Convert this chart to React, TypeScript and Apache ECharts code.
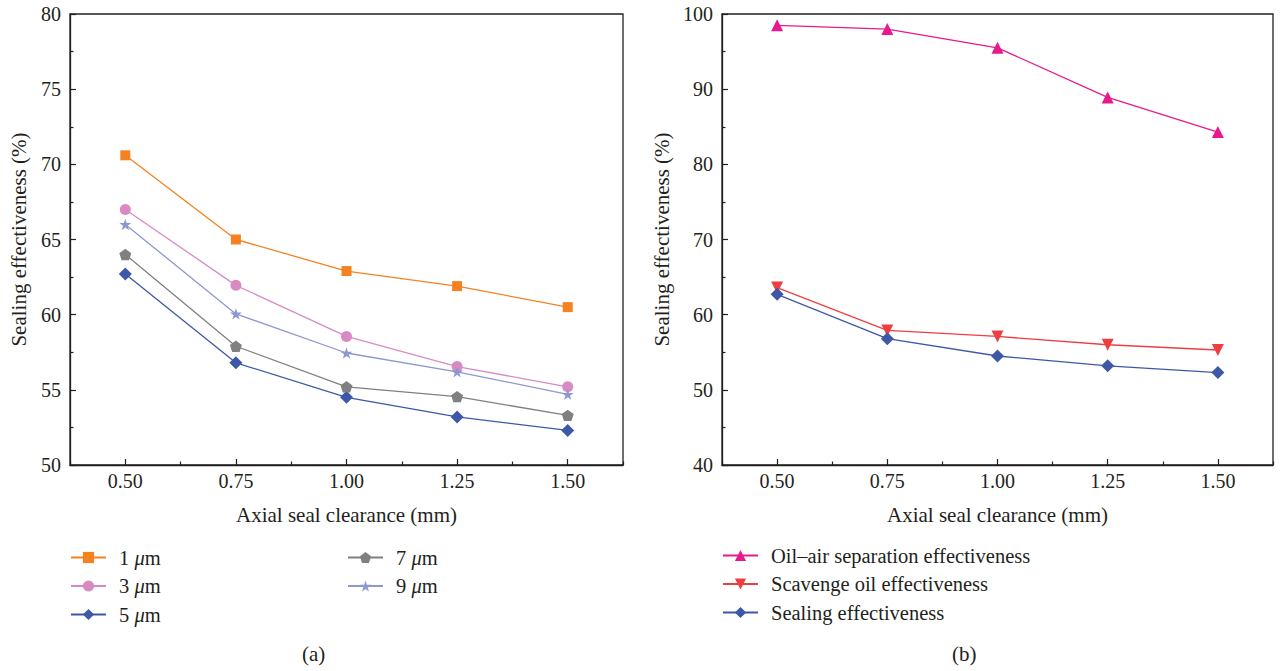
import React, { useEffect, useRef } from "react";
import * as echarts from "echarts";

const clearanceLabels = ["0.50", "0.75", "1.00", "1.25", "1.50"];

const grainNames = ["1 μm", "3 μm", "5 μm", "7 μm", "9 μm"];
const grain1 = [70.6, 65.0, 62.9, 61.9, 60.5];
const grain3 = [67.0, 61.95, 58.55, 56.55, 55.2];
const grain5 = [62.7, 56.8, 54.5, 53.2, 52.3];
const grain7 = [64.0, 57.9, 55.2, 54.55, 53.3];
const grain9 = [66.0, 60.05, 57.45, 56.2, 54.7];

const effNames = ["Oil–air separation effectiveness", "Scavenge oil effectiveness", "Sealing effectiveness"];
const oilAir = [98.5, 98.0, 95.5, 88.9, 84.3];
const scavenge = [63.6, 57.9, 57.1, 56.0, 55.3];
const sealing = [62.7, 56.8, 54.5, 53.2, 52.3];

const FONT = "Liberation Serif";
const INK = "#231f20";
const TICK_FS = 20;
const NAME_FS = 21;
const LEG_FS = 20.5;
const PENTAGON = "path://M50,0 L97.6,34.5 L79.4,90.5 L20.6,90.5 L2.4,34.5 Z";
const STAR = "path://M50,0 L61.2,34.5 L97.6,34.5 L68.2,55.9 L79.4,90.5 L50,69.1 L20.6,90.5 L31.8,55.9 L2.4,34.5 L38.8,34.5 Z";

function catAxes(gridIndex: number) {
  return [
    {
      type: "category",
      gridIndex,
      position: "bottom",
      data: clearanceLabels,
      boundaryGap: true,
      axisLine: { show: true, lineStyle: { color: INK, width: 1.3 } },
      axisTick: { show: true, inside: true, length: 6, alignWithLabel: true, interval: 0, lineStyle: { color: INK, width: 1.2 } },
      axisLabel: { show: true, interval: 0, margin: 6, color: INK, fontFamily: FONT, fontSize: TICK_FS },
      splitLine: { show: false },
      name: "Axial seal clearance (mm)",
      nameLocation: "middle",
      nameGap: 39,
      nameTextStyle: { color: INK, fontFamily: FONT, fontSize: NAME_FS },
    },
    {
      type: "category",
      gridIndex,
      position: "bottom",
      data: clearanceLabels,
      boundaryGap: true,
      axisLine: { show: false },
      axisTick: { show: true, inside: true, length: 3.5, alignWithLabel: false, interval: 0, lineStyle: { color: INK, width: 1.2 } },
      axisLabel: { show: false },
      splitLine: { show: false },
    },
  ];
}

function valAxis(gridIndex: number, min: number, max: number, interval: number, nameGap: number) {
  return {
    type: "value",
    gridIndex,
    min,
    max,
    interval,
    axisLine: { show: true, lineStyle: { color: INK, width: 1.3 } },
    axisTick: { show: true, inside: true, length: 6, lineStyle: { color: INK, width: 1.2 } },
    minorTick: { show: true, splitNumber: 2, length: 3.5, lineStyle: { color: INK, width: 1.2 } },
    axisLabel: { margin: 9, color: INK, fontFamily: FONT, fontSize: TICK_FS },
    splitLine: { show: false },
    minorSplitLine: { show: false },
    name: "Sealing effectiveness (%)",
    nameLocation: "middle",
    nameGap,
    nameTextStyle: { color: INK, fontFamily: FONT, fontSize: NAME_FS },
  };
}

function lineSeries(name: string, data: number[], color: string, symbol: string, symbolSize: number, xi: number, yi: number, extra: any = {}) {
  return {
    type: "line",
    name,
    data,
    xAxisIndex: xi,
    yAxisIndex: yi,
    symbol,
    symbolSize,
    symbolKeepAspect: true,
    lineStyle: { color, width: 1.3 },
    itemStyle: { color },
    ...extra,
  };
}

const legendText = {
  color: INK,
  fontFamily: FONT,
  fontSize: LEG_FS,
  lineHeight: 20,
  padding: [0, 0, 0, 8],
  rich: {
    n: { fontFamily: FONT, fontSize: LEG_FS, color: INK, lineHeight: 20 },
    i: { fontFamily: FONT, fontSize: LEG_FS, color: INK, fontStyle: "italic", lineHeight: 20 },
  },
};

function muFormatter(name: string) {
  if (name.indexOf("μ") >= 0) {
    const parts = name.split("μ");
    return "{n|" + parts[0] + "}{i|μ}{n|" + parts[1] + "}";
  }
  return name;
}

function legendBox(data: string[], left: number, top: number) {
  return {
    data,
    left,
    top,
    orient: "vertical",
    itemWidth: 35,
    itemHeight: 14,
    itemGap: 7.5,
    padding: 0,
    selectedMode: false,
    formatter: muFormatter,
    textStyle: legendText,
  };
}

export default function App() {
  const ref = useRef<HTMLDivElement>(null);
  useEffect(() => {
    if (!ref.current) return;
    const chart = echarts.init(ref.current, null, { renderer: "svg" });
    const option: any = {
      animation: false,
      backgroundColor: "#ffffff",
      grid: [
        { left: 70, top: 14, width: 553, height: 451, show: true, borderColor: INK, borderWidth: 1.3, backgroundColor: "transparent" },
        { left: 722, top: 14, width: 551, height: 451, show: true, borderColor: INK, borderWidth: 1.3, backgroundColor: "transparent" },
      ],
      xAxis: [...catAxes(0), ...catAxes(1)],
      yAxis: [valAxis(0, 50, 80, 5, 41), valAxis(1, 40, 100, 10, 50)],
      legend: [
        legendBox([grainNames[0], grainNames[1], grainNames[2]], 70, 547),
        legendBox([grainNames[3], grainNames[4]], 347, 547),
        legendBox(effNames, 722, 545),
      ],
      series: [
        lineSeries(grainNames[0], grain1, "#f58220", "rect", 10, 0, 0),
        lineSeries(grainNames[1], grain3, "#d98ac3", "circle", 11, 0, 0),
        lineSeries(grainNames[2], grain5, "#3d58a7", "diamond", 13, 0, 0),
        lineSeries(grainNames[3], grain7, "#808080", PENTAGON, 12, 0, 0),
        lineSeries(grainNames[4], grain9, "#8e98d0", STAR, 12, 0, 0),
        lineSeries(effNames[0], oilAir, "#e8198b", "triangle", 12, 2, 1),
        lineSeries(effNames[1], scavenge, "#ef3e42", "triangle", 12, 2, 1, { symbolRotate: 180 }),
        lineSeries(effNames[2], sealing, "#3d58a7", "diamond", 13, 2, 1),
      ],
      graphic: [
        { type: "text", left: 302, top: 643, style: { text: "(a)", fill: INK, font: "21px 'Liberation Serif'" } },
        { type: "text", left: 952, top: 643, style: { text: "(b)", fill: INK, font: "21px 'Liberation Serif'" } },
      ],
    };
    chart.setOption(option);
    return () => chart.dispose();
  }, []);
  return <div ref={ref} style={{ position: "fixed", left: 0, top: 0, width: 1281, height: 671 }} />;
}
